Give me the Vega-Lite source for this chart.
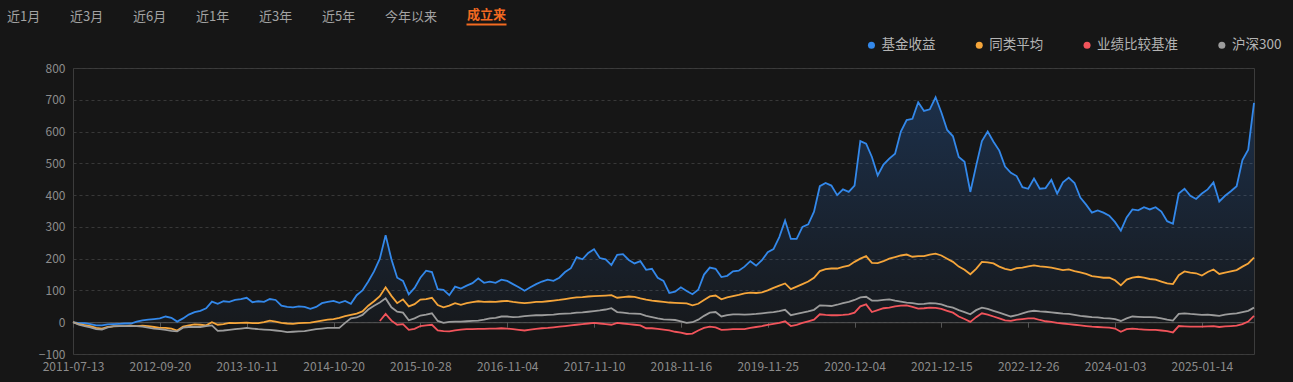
{
"$schema": "https://vega.github.io/schema/vega-lite/v6.json",
"width": 1181,
"height": 286,
"autosize": {"type": "none"},
"padding": {"left": 73, "top": 68, "right": 39, "bottom": 28},
"background": "#161616",
"config": {
  "view": {"stroke": "#3c3c3c", "strokeWidth": 1},
  "font": "Noto Sans CJK SC",
  "axis": {"labelFont": "Noto Sans CJK SC", "labelColor": "#8c8c8c", "labelFontSize": 12, "title": null},
  "legend": {"labelFont": "Noto Sans CJK SC"}
},
"datasets": {
  "tabs": [{"tab":"近1月"},{"tab":"近3月"},{"tab":"近6月"},{"tab":"近1年"},{"tab":"近3年"},{"tab":"近5年"},{"tab":"今年以来"},{"tab":"成立来"}],
  "nav": [
{"date":"2011-07-13","基金收益":0,"同类平均":0,"沪深300":0},
{"date":"2011-08-11","基金收益":-3,"同类平均":-6,"沪深300":-8},
{"date":"2011-09-09","基金收益":-3,"同类平均":-9,"沪深300":-12},
{"date":"2011-10-12","基金收益":-6,"同类平均":-12,"沪深300":-16},
{"date":"2011-11-10","基金收益":-10,"同类平均":-18,"沪深300":-22},
{"date":"2011-12-09","基金收益":-10,"同类平均":-20,"沪深300":-23},
{"date":"2012-01-09","基金收益":-7,"同类平均":-15,"沪深300":-16},
{"date":"2012-02-08","基金收益":-6,"同类平均":-13,"沪深300":-12},
{"date":"2012-03-08","基金收益":-5,"同类平均":-12,"沪深300":-12},
{"date":"2012-04-09","基金收益":-4,"同类平均":-12,"沪深300":-12},
{"date":"2012-05-08","基金收益":-4,"同类平均":-11,"沪深300":-12},
{"date":"2012-06-06","基金收益":2,"同类平均":-12,"沪深300":-12},
{"date":"2012-07-05","基金收益":6,"同类平均":-11,"沪深300":-14},
{"date":"2012-08-03","基金收益":8,"同类平均":-12,"沪深300":-17},
{"date":"2012-08-31","基金收益":10,"同类平均":-15,"沪深300":-20},
{"date":"2012-09-20","基金收益":12,"同类平均":-18,"沪深300":-22},
{"date":"2012-10-17","基金收益":18,"同类平均":-18,"沪深300":-24},
{"date":"2012-11-12","基金收益":14,"同类平均":-20,"沪深300":-27},
{"date":"2012-12-07","基金收益":2,"同类平均":-26,"沪深300":-29},
{"date":"2013-01-04","基金收益":12,"同类平均":-14,"沪深300":-17},
{"date":"2013-01-30","基金收益":24,"同类平均":-10,"沪深300":-15},
{"date":"2013-02-27","基金收益":32,"同类平均":-7,"沪深300":-15},
{"date":"2013-03-25","基金收益":36,"同类平均":-8,"沪深300":-15},
{"date":"2013-04-19","基金收益":44,"同类平均":-10,"沪深300":-12},
{"date":"2013-05-16","基金收益":65,"同类平均":0,"沪深300":-10},
{"date":"2013-06-13","基金收益":58,"同类平均":-8,"沪深300":-27},
{"date":"2013-07-09","基金收益":66,"同类平均":-6,"沪深300":-26},
{"date":"2013-08-02","基金收益":64,"同类平均":-2,"沪深300":-24},
{"date":"2013-08-28","基金收益":70,"同类平均":-3,"沪深300":-22},
{"date":"2013-09-24","基金收益":73,"同类平均":-2,"沪深300":-20},
{"date":"2013-10-11","基金收益":77,"同类平均":-1,"沪深300":-18},
{"date":"2013-11-05","基金收益":63,"同类平均":-3,"沪深300":-20},
{"date":"2013-11-29","基金收益":66,"同类平均":-3,"沪深300":-22},
{"date":"2013-12-24","基金收益":64,"同类平均":0,"沪深300":-23},
{"date":"2014-01-20","基金收益":73,"同类平均":5,"沪深300":-24},
{"date":"2014-02-18","基金收益":70,"同类平均":2,"沪深300":-26},
{"date":"2014-03-14","基金收益":52,"同类平均":-2,"沪深300":-28},
{"date":"2014-04-09","基金收益":48,"同类平均":-4,"沪深300":-31},
{"date":"2014-05-06","基金收益":47,"同类平均":-5,"沪深300":-30},
{"date":"2014-05-30","基金收益":50,"同类平均":-3,"沪深300":-29},
{"date":"2014-06-25","基金收益":48,"同类平均":-2,"沪深300":-28},
{"date":"2014-07-18","基金收益":42,"同类平均":-1,"沪深300":-25},
{"date":"2014-08-12","基金收益":48,"同类平均":2,"沪深300":-22},
{"date":"2014-09-05","基金收益":60,"同类平均":5,"沪深300":-20},
{"date":"2014-09-30","基金收益":64,"同类平均":8,"沪深300":-18},
{"date":"2014-10-20","基金收益":67,"同类平均":10,"沪深300":-18},
{"date":"2014-11-13","基金收益":61,"同类平均":14,"沪深300":-18},
{"date":"2014-12-08","基金收益":67,"同类平均":19,"沪深300":-2},
{"date":"2015-01-05","基金收益":58,"同类平均":23,"沪深300":12},
{"date":"2015-01-29","基金收益":85,"同类平均":27,"沪深300":15},
{"date":"2015-02-25","基金收益":100,"同类平均":34,"沪深300":23},
{"date":"2015-03-20","基金收益":128,"同类平均":52,"沪深300":40},
{"date":"2015-04-15","基金收益":160,"同类平均":66,"沪深300":52},
{"date":"2015-05-11","基金收益":200,"同类平均":82,"业绩比较基准":4,"沪深300":62},
{"date":"2015-06-04","基金收益":274,"同类平均":110,"业绩比较基准":26,"沪深300":75},
{"date":"2015-06-30","基金收益":198,"同类平均":83,"业绩比较基准":5,"沪深300":47},
{"date":"2015-07-24","基金收益":140,"同类平均":60,"业绩比较基准":-8,"沪深300":33},
{"date":"2015-08-18","基金收益":130,"同类平均":72,"业绩比较基准":-6,"沪深300":30},
{"date":"2015-09-14","基金收益":88,"同类平均":50,"业绩比较基准":-24,"沪深300":6},
{"date":"2015-10-12","基金收益":108,"同类平均":57,"业绩比较基准":-21,"沪深300":12},
{"date":"2015-10-28","基金收益":140,"同类平均":71,"业绩比较基准":-12,"沪深300":21},
{"date":"2015-11-20","基金收益":162,"同类平均":73,"业绩比较基准":-10,"沪深300":24},
{"date":"2015-12-15","基金收益":158,"同类平均":77,"业绩比较基准":-8,"沪深300":28},
{"date":"2016-01-11","基金收益":104,"同类平均":54,"业绩比较基准":-26,"沪深300":4},
{"date":"2016-02-03","基金收益":102,"同类平均":47,"业绩比较基准":-28,"沪深300":-2},
{"date":"2016-03-03","基金收益":85,"同类平均":52,"业绩比较基准":-29,"沪深300":1},
{"date":"2016-03-28","基金收益":112,"同类平均":60,"业绩比较基准":-26,"沪深300":2},
{"date":"2016-04-21","基金收益":106,"同类平均":55,"业绩比较基准":-23,"沪深300":2},
{"date":"2016-05-17","基金收益":115,"同类平均":60,"业绩比较基准":-22,"沪深300":3},
{"date":"2016-06-13","基金收益":123,"同类平均":63,"业绩比较基准":-22,"沪深300":4},
{"date":"2016-07-07","基金收益":138,"同类平均":66,"业绩比较基准":-21,"沪深300":5},
{"date":"2016-08-01","基金收益":124,"同类平均":64,"业绩比较基准":-21,"沪深300":8},
{"date":"2016-08-25","基金收益":128,"同类平均":65,"业绩比较基准":-20,"沪深300":12},
{"date":"2016-09-21","基金收益":124,"同类平均":64,"业绩比较基准":-20,"沪深300":14},
{"date":"2016-10-17","基金收益":134,"同类平均":66,"业绩比较基准":-19,"沪深300":18},
{"date":"2016-11-04","基金收益":130,"同类平均":67,"业绩比较基准":-20,"沪深300":18},
{"date":"2016-11-29","基金收益":120,"同类平均":64,"业绩比较基准":-22,"沪深300":16},
{"date":"2016-12-22","基金收益":110,"同类平均":62,"业绩比较基准":-24,"沪深300":17},
{"date":"2017-01-17","基金收益":99,"同类平均":60,"业绩比较基准":-26,"沪深300":19},
{"date":"2017-02-15","基金收益":110,"同类平均":62,"业绩比较基准":-23,"沪深300":21},
{"date":"2017-03-13","基金收益":120,"同类平均":64,"业绩比较基准":-21,"沪深300":22},
{"date":"2017-04-06","基金收益":128,"同类平均":64,"业绩比较基准":-19,"沪深300":22},
{"date":"2017-05-02","基金收益":134,"同类平均":66,"业绩比较基准":-18,"沪深300":23},
{"date":"2017-05-25","基金收益":130,"同类平均":68,"业绩比较基准":-16,"沪深300":24},
{"date":"2017-06-20","基金收益":140,"同类平均":70,"业绩比较基准":-14,"沪深300":26},
{"date":"2017-07-14","基金收益":158,"同类平均":73,"业绩比较基准":-12,"沪深300":27},
{"date":"2017-08-08","基金收益":170,"同类平均":76,"业绩比较基准":-10,"沪深300":28},
{"date":"2017-09-01","基金收益":205,"同类平均":78,"业绩比较基准":-8,"沪深300":30},
{"date":"2017-09-26","基金收益":198,"同类平均":79,"业绩比较基准":-6,"沪深300":31},
{"date":"2017-10-20","基金收益":218,"同类平均":81,"业绩比较基准":-4,"沪深300":33},
{"date":"2017-11-10","基金收益":230,"同类平均":82,"业绩比较基准":-2,"沪深300":35},
{"date":"2017-12-05","基金收益":202,"同类平均":83,"业绩比较基准":-4,"沪深300":37},
{"date":"2017-12-28","基金收益":198,"同类平均":84,"业绩比较基准":-6,"沪深300":40},
{"date":"2018-01-23","基金收益":180,"同类平均":85,"业绩比较基准":-8,"沪深300":44},
{"date":"2018-02-14","基金收益":212,"同类平均":77,"业绩比较基准":-2,"沪深300":32},
{"date":"2018-03-15","基金收益":214,"同类平均":79,"业绩比较基准":-4,"沪深300":30},
{"date":"2018-04-10","基金收益":196,"同类平均":81,"业绩比较基准":-6,"沪深300":28},
{"date":"2018-05-04","基金收益":185,"同类平均":80,"业绩比较基准":-8,"沪深300":27},
{"date":"2018-05-29","基金收益":192,"同类平均":75,"业绩比较基准":-10,"沪深300":26},
{"date":"2018-06-22","基金收益":165,"同类平均":71,"业绩比较基准":-19,"沪深300":20},
{"date":"2018-07-17","基金收益":168,"同类平均":68,"业绩比较基准":-19,"沪深300":16},
{"date":"2018-08-09","基金收益":140,"同类平均":66,"业绩比较基准":-21,"沪深300":12},
{"date":"2018-09-03","基金收益":130,"同类平均":64,"业绩比较基准":-23,"沪深300":9},
{"date":"2018-09-27","基金收益":92,"同类平均":62,"业绩比较基准":-26,"沪深300":8},
{"date":"2018-10-24","基金收益":96,"同类平均":61,"业绩比较基准":-30,"沪深300":7},
{"date":"2018-11-16","基金收益":110,"同类平均":60,"业绩比较基准":-33,"沪深300":3},
{"date":"2018-12-11","基金收益":98,"同类平均":59,"业绩比较基准":-37,"沪深300":-2},
{"date":"2019-01-04","基金收益":88,"同类平均":53,"业绩比较基准":-36,"沪深300":0},
{"date":"2019-01-29","基金收益":102,"同类平均":58,"业绩比较基准":-26,"沪深300":8},
{"date":"2019-02-27","基金收益":150,"同类平均":70,"业绩比较基准":-18,"沪深300":20},
{"date":"2019-03-22","基金收益":172,"同类平均":81,"业绩比较基准":-14,"沪深300":30},
{"date":"2019-04-17","基金收益":168,"同类平均":84,"业绩比较基准":-16,"沪深300":32},
{"date":"2019-05-14","基金收益":142,"同类平均":72,"业绩比较基准":-24,"沪深300":18},
{"date":"2019-06-06","基金收益":146,"同类平均":78,"业绩比较基准":-23,"沪深300":22},
{"date":"2019-07-02","基金收益":160,"同类平均":82,"业绩比较基准":-22,"沪深300":25},
{"date":"2019-07-25","基金收益":162,"同类平均":86,"业绩比较基准":-22,"沪深300":25},
{"date":"2019-08-19","基金收益":175,"同类平均":91,"业绩比较基准":-22,"沪深300":24},
{"date":"2019-09-11","基金收益":192,"同类平均":93,"业绩比较基准":-18,"沪深300":25},
{"date":"2019-10-11","基金收益":178,"同类平均":92,"业绩比较基准":-15,"沪深300":26},
{"date":"2019-11-01","基金收益":195,"同类平均":94,"业绩比较基准":-12,"沪深300":28},
{"date":"2019-11-25","基金收益":220,"同类平均":100,"业绩比较基准":-8,"沪深300":30},
{"date":"2019-12-18","基金收益":230,"同类平均":108,"业绩比较基准":-5,"沪深300":32},
{"date":"2020-01-13","基金收益":268,"同类平均":115,"业绩比较基准":-2,"沪深300":35},
{"date":"2020-02-11","基金收益":320,"同类平均":122,"业绩比较基准":3,"沪深300":39},
{"date":"2020-03-06","基金收益":262,"同类平均":104,"业绩比较基准":-12,"沪深300":22},
{"date":"2020-03-31","基金收益":262,"同类平均":112,"业绩比较基准":-8,"沪深300":26},
{"date":"2020-04-24","基金收益":300,"同类平均":120,"业绩比较基准":-2,"沪深300":30},
{"date":"2020-05-21","基金收益":308,"同类平均":128,"业绩比较基准":3,"沪深300":34},
{"date":"2020-06-15","基金收益":348,"同类平均":140,"业绩比较基准":8,"沪深300":39},
{"date":"2020-07-09","基金收益":428,"同类平均":161,"业绩比较基准":25,"沪深300":53},
{"date":"2020-08-03","基金收益":438,"同类平均":167,"业绩比较基准":23,"沪深300":52},
{"date":"2020-08-26","基金收益":430,"同类平均":169,"业绩比较基准":22,"沪深300":51},
{"date":"2020-09-18","基金收益":400,"同类平均":169,"业绩比较基准":22,"沪深300":55},
{"date":"2020-10-19","基金收益":418,"同类平均":174,"业绩比较基准":23,"沪深300":60},
{"date":"2020-11-11","基金收益":410,"同类平均":178,"业绩比较基准":25,"沪深300":64},
{"date":"2020-12-04","基金收益":430,"同类平均":190,"业绩比较基准":30,"沪深300":70},
{"date":"2020-12-29","基金收益":570,"同类平均":200,"业绩比较基准":50,"沪深300":78},
{"date":"2021-01-22","基金收益":562,"同类平均":208,"业绩比较基准":56,"沪深300":80},
{"date":"2021-02-18","基金收益":520,"同类平均":187,"业绩比较基准":32,"沪深300":68},
{"date":"2021-03-16","基金收益":462,"同类平均":186,"业绩比较基准":38,"沪深300":68},
{"date":"2021-04-09","基金收益":496,"同类平均":192,"业绩比较基准":44,"沪深300":70},
{"date":"2021-05-07","基金收益":515,"同类平均":200,"业绩比较基准":46,"沪深300":72},
{"date":"2021-06-01","基金收益":530,"同类平均":205,"业绩比较基准":50,"沪深300":68},
{"date":"2021-06-25","基金收益":600,"同类平均":210,"业绩比较基准":52,"沪深300":65},
{"date":"2021-07-20","基金收益":636,"同类平均":213,"业绩比较基准":53,"沪深300":62},
{"date":"2021-08-12","基金收益":640,"同类平均":206,"业绩比较基准":48,"沪深300":60},
{"date":"2021-09-06","基金收益":692,"同类平均":208,"业绩比较基准":43,"沪深300":57},
{"date":"2021-09-29","基金收益":665,"同类平均":208,"业绩比较基准":44,"沪深300":58},
{"date":"2021-10-27","基金收益":670,"同类平均":213,"业绩比较基准":46,"沪深300":60},
{"date":"2021-11-19","基金收益":708,"同类平均":216,"业绩比较基准":45,"沪深300":59},
{"date":"2021-12-15","基金收益":660,"同类平均":210,"业绩比较基准":42,"沪深300":56},
{"date":"2022-01-10","基金收益":605,"同类平均":200,"业绩比较基准":36,"沪深300":50},
{"date":"2022-02-09","基金收益":585,"同类平均":190,"业绩比较基准":30,"沪深300":46},
{"date":"2022-03-07","基金收益":520,"同类平均":175,"业绩比较基准":18,"沪深300":38},
{"date":"2022-03-30","基金收益":505,"同类平均":165,"业绩比较基准":10,"沪深300":32},
{"date":"2022-04-26","基金收益":410,"同类平均":151,"业绩比较基准":1,"沪深300":25},
{"date":"2022-05-23","基金收益":492,"同类平均":168,"业绩比较基准":16,"沪深300":38},
{"date":"2022-06-16","基金收益":570,"同类平均":190,"业绩比较基准":28,"沪深300":46},
{"date":"2022-07-11","基金收益":600,"同类平均":188,"业绩比较基准":24,"沪深300":42},
{"date":"2022-08-03","基金收益":568,"同类平均":185,"业绩比较基准":18,"沪深300":36},
{"date":"2022-08-26","基金收益":540,"同类平均":175,"业绩比较基准":12,"沪深300":30},
{"date":"2022-09-21","基金收益":490,"同类平均":168,"业绩比较基准":6,"沪深300":24},
{"date":"2022-10-20","基金收益":470,"同类平均":164,"业绩比较基准":4,"沪深300":18},
{"date":"2022-11-11","基金收益":460,"同类平均":170,"业绩比较基准":8,"沪深300":22},
{"date":"2022-12-05","基金收益":425,"同类平均":172,"业绩比较基准":10,"沪深300":28},
{"date":"2022-12-26","基金收益":420,"同类平均":176,"业绩比较基准":12,"沪深300":33},
{"date":"2023-01-18","基金收益":452,"同类平均":179,"业绩比较基准":12,"沪深300":36},
{"date":"2023-02-15","基金收益":420,"同类平均":176,"业绩比较基准":7,"沪深300":34},
{"date":"2023-03-10","基金收益":422,"同类平均":174,"业绩比较基准":3,"沪深300":33},
{"date":"2023-04-04","基金收益":448,"同类平均":172,"业绩比较基准":1,"沪深300":31},
{"date":"2023-04-27","基金收益":405,"同类平均":168,"业绩比较基准":-2,"沪深300":29},
{"date":"2023-05-25","基金收益":440,"同类平均":164,"业绩比较基准":-4,"沪深300":27},
{"date":"2023-06-19","基金收益":455,"同类平均":166,"业绩比较基准":-6,"沪深300":26},
{"date":"2023-07-13","基金收益":438,"同类平均":161,"业绩比较基准":-8,"沪深300":23},
{"date":"2023-08-07","基金收益":392,"同类平均":157,"业绩比较基准":-10,"沪深300":20},
{"date":"2023-08-30","基金收益":370,"同类平均":152,"业绩比较基准":-12,"沪深300":18},
{"date":"2023-09-22","基金收益":345,"同类平均":145,"业绩比较基准":-14,"沪深300":16},
{"date":"2023-10-23","基金收益":352,"同类平均":143,"业绩比较基准":-15,"沪深300":15},
{"date":"2023-11-15","基金收益":345,"同类平均":140,"业绩比较基准":-16,"沪深300":13},
{"date":"2023-12-08","基金收益":335,"同类平均":140,"业绩比较基准":-17,"沪深300":12},
{"date":"2024-01-03","基金收益":315,"同类平均":132,"业绩比较基准":-20,"沪深300":10},
{"date":"2024-01-26","基金收益":288,"同类平均":116,"业绩比较基准":-30,"沪深300":4},
{"date":"2024-02-27","基金收益":330,"同类平均":134,"业绩比较基准":-22,"沪深300":12},
{"date":"2024-03-21","基金收益":355,"同类平均":140,"业绩比较基准":-20,"沪深300":18},
{"date":"2024-04-16","基金收益":352,"同类平均":143,"业绩比较基准":-22,"沪深300":17},
{"date":"2024-05-13","基金收益":362,"同类平均":140,"业绩比较基准":-23,"沪深300":16},
{"date":"2024-06-05","基金收益":355,"同类平均":136,"业绩比较基准":-24,"沪深300":16},
{"date":"2024-06-28","基金收益":362,"同类平均":134,"业绩比较基准":-24,"沪深300":15},
{"date":"2024-07-23","基金收益":348,"同类平均":128,"业绩比较基准":-26,"沪深300":12},
{"date":"2024-08-15","基金收益":318,"同类平均":122,"业绩比较基准":-28,"沪深300":8},
{"date":"2024-09-09","基金收益":310,"同类平均":120,"业绩比较基准":-32,"沪深300":5},
{"date":"2024-10-10","基金收益":405,"同类平均":148,"业绩比较基准":-12,"沪深300":26},
{"date":"2024-11-01","基金收益":420,"同类平均":160,"业绩比较基准":-13,"沪深300":28},
{"date":"2024-11-26","基金收益":398,"同类平均":156,"业绩比较基准":-14,"沪深300":26},
{"date":"2024-12-19","基金收益":388,"同类平均":154,"业绩比较基准":-14,"沪深300":25},
{"date":"2025-01-14","基金收益":405,"同类平均":147,"业绩比较基准":-14,"沪深300":23},
{"date":"2025-02-13","基金收益":418,"同类平均":158,"业绩比较基准":-13,"沪深300":24},
{"date":"2025-03-10","基金收益":440,"同类平均":166,"业绩比较基准":-12,"沪深300":22},
{"date":"2025-04-02","基金收益":380,"同类平均":152,"业绩比较基准":-15,"沪深300":20},
{"date":"2025-04-28","基金收益":398,"同类平均":156,"业绩比较基准":-13,"沪深300":24},
{"date":"2025-05-23","基金收益":412,"同类平均":160,"业绩比较基准":-12,"沪深300":26},
{"date":"2025-06-18","基金收益":428,"同类平均":164,"业绩比较基准":-11,"沪深300":28},
{"date":"2025-07-11","基金收益":510,"同类平均":175,"业绩比较基准":-6,"沪深300":32},
{"date":"2025-08-05","基金收益":543,"同类平均":185,"业绩比较基准":2,"沪深300":36},
{"date":"2025-08-28","基金收益":690,"同类平均":203,"业绩比较基准":20,"沪深300":46}
  ]
},
"data": {"name": "nav"},
"resolve": {"axis": {"x": "independent"}},
"layer": [
  {
    "mark": {"type": "area", "line": false, "fill": {"gradient": "linear", "x1": 0, "y1": 0, "x2": 0, "y2": 1, "stops": [{"offset": 0, "color": "rgba(47,128,237,0.24)"}, {"offset": 1, "color": "rgba(47,128,237,0.03)"}]}},
    "encoding": {
      "x": {"field": "date", "type": "ordinal", "scale": {"type": "point", "padding": 0},
        "axis": {"orient": "bottom", "offset": -31.8, "labels": false, "grid": false, "domain": true, "domainColor": "#555555", "ticks": true, "tickColor": "#555555", "tickSize": 5,
          "values": ["2011-07-13","2012-09-20","2013-10-11","2014-10-20","2015-10-28","2016-11-04","2017-11-10","2018-11-16","2019-11-25","2020-12-04","2021-12-15","2022-12-26","2024-01-03","2025-01-14"]}},
      "y": {"field": "基金收益", "type": "quantitative", "scale": {"domain": [-100, 800], "nice": false, "zero": false},
        "axis": {"values": [-100,0,100,200,300,400,500,600,700,800], "grid": true, "gridDash": [3,3], "gridColor": "#383838", "domain": false, "ticks": false, "labelPadding": 8}},
      "y2": {"datum": 0}
    }
  },
  {
    "transform": [{"fold": ["基金收益","同类平均","业绩比较基准","沪深300"], "as": ["series","value"]}],
    "mark": {"type": "line", "strokeWidth": 1.8},
    "encoding": {
      "x": {"field": "date", "type": "ordinal",
        "axis": {"orient": "bottom", "labelAngle": 0, "labelOverlap": false, "domain": false, "ticks": false, "grid": false, "labelPadding": 7,
          "values": ["2011-07-13","2012-09-20","2013-10-11","2014-10-20","2015-10-28","2016-11-04","2017-11-10","2018-11-16","2019-11-25","2020-12-04","2021-12-15","2022-12-26","2024-01-03","2025-01-14"]}},
      "y": {"field": "value", "type": "quantitative",
        "axis": {"values": [-100,0,100,200,300,400,500,600,700,800], "grid": true, "gridDash": [3,3], "gridColor": "#383838", "domain": false, "ticks": false, "labelPadding": 8}},
      "color": {"field": "series", "type": "nominal",
        "scale": {"domain": ["基金收益","同类平均","业绩比较基准","沪深300"], "range": ["#3388ea","#f5a53a","#f2545b","#9c9c9c"]},
        "legend": {"orient": "none", "legendX": 791.7, "legendY": -30, "direction": "horizontal", "title": null, "padding": 0,
          "symbolType": "circle", "symbolSize": 49, "symbolStrokeWidth": 0, "labelOffset": 3.3, "columnPadding": 36.8,
          "symbolFillColor": {"expr": "scale('color', datum.value)"},
          "labelFontSize": 13.5, "labelColor": "#b4b4b4"}}
    }
  },
  {
    "data": {"name": "tabs"},
    "mark": {"type": "point", "opacity": 0},
    "encoding": {
      "fill": {"field": "tab", "type": "nominal",
        "scale": {"domain": ["近1月","近3月","近6月","近1年","近3年","近5年","今年以来","成立来"], "range": ["transparent","transparent","transparent","transparent","transparent","transparent","transparent","#f26a21"]},
        "legend": {"orient": "none", "legendX": -79, "legendY": -59.5, "direction": "horizontal", "title": null, "padding": 0,
          "symbolType": {"expr": "datum.value === '成立来' ? 'M6,8.5h40v2h-40z' : 'circle'"},
          "symbolSize": 4, "symbolStrokeWidth": 0, "symbolOpacity": 1,
          "labelOffset": 0, "columnPadding": 16,
          "labelFontSize": 13,
          "labelColor": {"expr": "datum.value === '成立来' ? '#f26a21' : '#a3a3a3'"},
          "labelFontWeight": {"expr": "datum.value === '成立来' ? 'bold' : 'normal'"}}}
    }
  }
]
}
